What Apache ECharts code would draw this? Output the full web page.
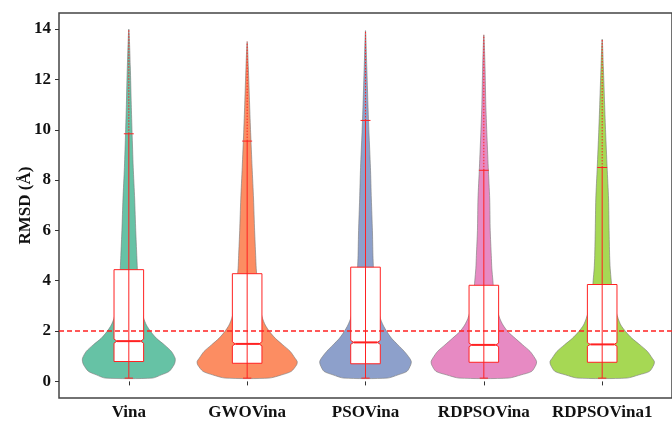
<!DOCTYPE html>
<html>
<head>
<meta charset="utf-8">
<script src="https://cdn.jsdelivr.net/npm/echarts@6/dist/echarts.min.js"></script>
<style>html,body{margin:0;padding:0;background:#fff}#c{width:672px;height:421px}</style>
</head>
<body>
<div id="c"></div>
<script>
// ---- data ----
const categories = ['Vina', 'GWOVina', 'PSOVina', 'RDPSOVina', 'RDPSOVina1'];
const yTicks = [0, 2, 4, 6, 8, 10, 12, 14];
const threshold = 2;

// density profile (relative, peak of largest = 1) at these RMSD levels
const densityLevels = [0.13, 0.26, 0.40, 0.66, 0.79, 0.92, 1.19, 1.45, 1.71, 1.98, 2.24, 2.5, 3.0, 3.5, 4.0, 4.5, 5.0, 6.0, 7.25, 8.5, 9.9, 11.0, 12.5];
const densityVina       = [0.44, 0.61, 0.76, 0.85, 0.87, 0.87, 0.80, 0.67, 0.52, 0.41, 0.33, 0.28, 0.22, 0.19, 0.17, 0.16, 0.15, 0.13, 0.11, 0.083, 0.061, 0.046, 0.028];
const densityGWOVina    = [0.41, 0.65, 0.83, 0.93, 0.94, 0.90, 0.81, 0.67, 0.53, 0.42, 0.34, 0.29, 0.23, 0.20, 0.19, 0.17, 0.16, 0.14, 0.12, 0.093, 0.065, 0.046, 0.022];
const densityPSOVina    = [0.41, 0.61, 0.78, 0.85, 0.86, 0.83, 0.73, 0.61, 0.49, 0.40, 0.33, 0.28, 0.22, 0.19, 0.17, 0.15, 0.14, 0.13, 0.11, 0.093, 0.065, 0.046, 0.024];
const densityRDPSOVina  = [0.46, 0.70, 0.90, 0.98, 0.99, 0.96, 0.87, 0.73, 0.59, 0.45, 0.36, 0.30, 0.23, 0.19, 0.17, 0.15, 0.14, 0.12, 0.11, 0.083, 0.056, 0.037, 0.022];
const densityRDPSOVina1 = [0.46, 0.69, 0.89, 0.97, 0.98, 0.94, 0.85, 0.71, 0.56, 0.44, 0.35, 0.30, 0.23, 0.19, 0.17, 0.15, 0.14, 0.13, 0.12, 0.093, 0.065, 0.046, 0.022];
const densities = [densityVina, densityGWOVina, densityPSOVina, densityRDPSOVina, densityRDPSOVina1];

const maxValues      = [14.0, 13.5, 13.94, 13.77, 13.6];
const lowerWhiskers  = [0.13, 0.13, 0.13, 0.13, 0.13];
const q1Values       = [0.79, 0.72, 0.70, 0.76, 0.76];
const medianValues   = [1.60, 1.49, 1.55, 1.45, 1.47];
const q3Values       = [4.44, 4.28, 4.54, 3.82, 3.85];
const upperWhiskers  = [9.84, 9.55, 10.37, 8.39, 8.50];
const notchHalf      = [0.08, 0.08, 0.08, 0.07, 0.07];

// ---- styles ----
const colors = ['#66C2A5', '#FC8D62', '#8DA0CB', '#E78AC3', '#A6D854'];
const red = '#ff2222';
const violinHalfMax = 0.45;
const boxHalf = 0.125;
const font = 'Liberation Serif, Times New Roman, serif';

const chart = echarts.init(document.getElementById('c'), null, {renderer: 'canvas'});

function violinItem(params, api) {
  const i = api.value(0) - 1;
  const x = i + 1;
  const d = densities[i];
  const left = [], right = [];
  for (let k = 0; k < densityLevels.length; k++) {
    left.push(api.coord([x - d[k] * violinHalfMax, densityLevels[k]]));
    right.push(api.coord([x + d[k] * violinHalfMax, densityLevels[k]]));
  }
  const top = api.coord([x, maxValues[i]]);
  const pts = left.concat([top]).concat(right.reverse());
  return {
    type: 'polygon',
    shape: {points: pts, smooth: 0.25},
    style: {fill: colors[i], stroke: '#777', lineWidth: 0.6}
  };
}

function boxItem(params, api) {
  const i = api.value(0) - 1;
  const x = i + 1;
  const q1 = q1Values[i], q3 = q3Values[i], med = medianValues[i], n = notchHalf[i];
  const c = (a, b) => api.coord([a, b]);
  const inner = boxHalf * 0.8;
  const boxPts = [
    c(x - boxHalf, q3), c(x + boxHalf, q3), c(x + boxHalf, med + n), c(x + inner, med),
    c(x + boxHalf, med - n), c(x + boxHalf, q1), c(x - boxHalf, q1), c(x - boxHalf, med - n),
    c(x - inner, med), c(x - boxHalf, med + n)
  ];
  const line = (p1, p2, w, dash) => ({
    type: 'line',
    shape: {x1: p1[0], y1: p1[1], x2: p2[0], y2: p2[1]},
    style: {stroke: red, lineWidth: w, lineDash: dash || null}
  });
  return {
    type: 'group',
    children: [
      {type: 'polygon', shape: {points: boxPts}, style: {fill: '#fff', stroke: red, lineWidth: 1}},
      line(c(x, upperWhiskers[i]), c(x, maxValues[i]), 1, [1.5, 1.5]),
      line(c(x, lowerWhiskers[i]), c(x, upperWhiskers[i]), 1),
      line(c(x - 0.042, upperWhiskers[i]), c(x + 0.042, upperWhiskers[i]), 1),
      line(c(x - 0.035, lowerWhiskers[i]), c(x + 0.035, lowerWhiskers[i]), 1),
      line(c(x - inner, med), c(x + inner, med), 2)
    ]
  };
}

function thresholdItem(params, api) {
  const y = api.value(0);
  const p1 = api.coord([0.41, y]);
  const p2 = api.coord([5.59, y]);
  return {
    type: 'line',
    shape: {x1: p1[0], y1: p1[1], x2: p2[0], y2: p2[1]},
    style: {stroke: red, lineWidth: 1.5, lineDash: [5, 3]}
  };
}

const catData = categories.map((_, i) => [i + 1]);

chart.setOption({
  animation: false,
  backgroundColor: '#fff',
  grid: {left: 59, top: 13, width: 619.6, height: 387, show: true, borderColor: '#444', borderWidth: 1.5, backgroundColor: 'transparent'},
  xAxis: {
    type: 'value', min: 0.41, max: 5.59,
    splitLine: {show: false},
    axisLine: {show: false},
    axisTick: {show: true, length: 4, lineStyle: {color: '#333', width: 1}, customValues: [1, 2, 3, 4, 5]},
    axisLabel: {
      customValues: [1, 2, 3, 4, 5],
      formatter: v => categories[Math.round(v) - 1] || '',
      fontFamily: font, fontWeight: 'bold', fontSize: 17, color: '#111', margin: 6
    }
  },
  yAxis: {
    type: 'value', min: -0.66, max: 14.64,
    name: 'RMSD (Å)', nameLocation: 'middle', nameGap: 25, nameRotate: 90, nameMoveOverlap: false,
    nameTextStyle: {fontFamily: font, fontWeight: 'bold', fontSize: 17, color: '#111'},
    splitLine: {show: false},
    axisLine: {show: false},
    axisTick: {show: true, length: 4, lineStyle: {color: '#333', width: 1}, customValues: yTicks},
    axisLabel: {
      customValues: yTicks,
      fontFamily: font, fontWeight: 'bold', fontSize: 17, color: '#111', margin: 8
    }
  },
  series: [
    {type: 'custom', renderItem: violinItem, data: catData, encode: {x: 0}, z: 2, silent: true},
    {type: 'custom', renderItem: boxItem, data: catData, encode: {x: 0}, z: 3, silent: true},
    {type: 'custom', renderItem: thresholdItem, data: [[threshold]], encode: {y: 0}, z: 4, silent: true}
  ]
});
</script>
</body>
</html>
